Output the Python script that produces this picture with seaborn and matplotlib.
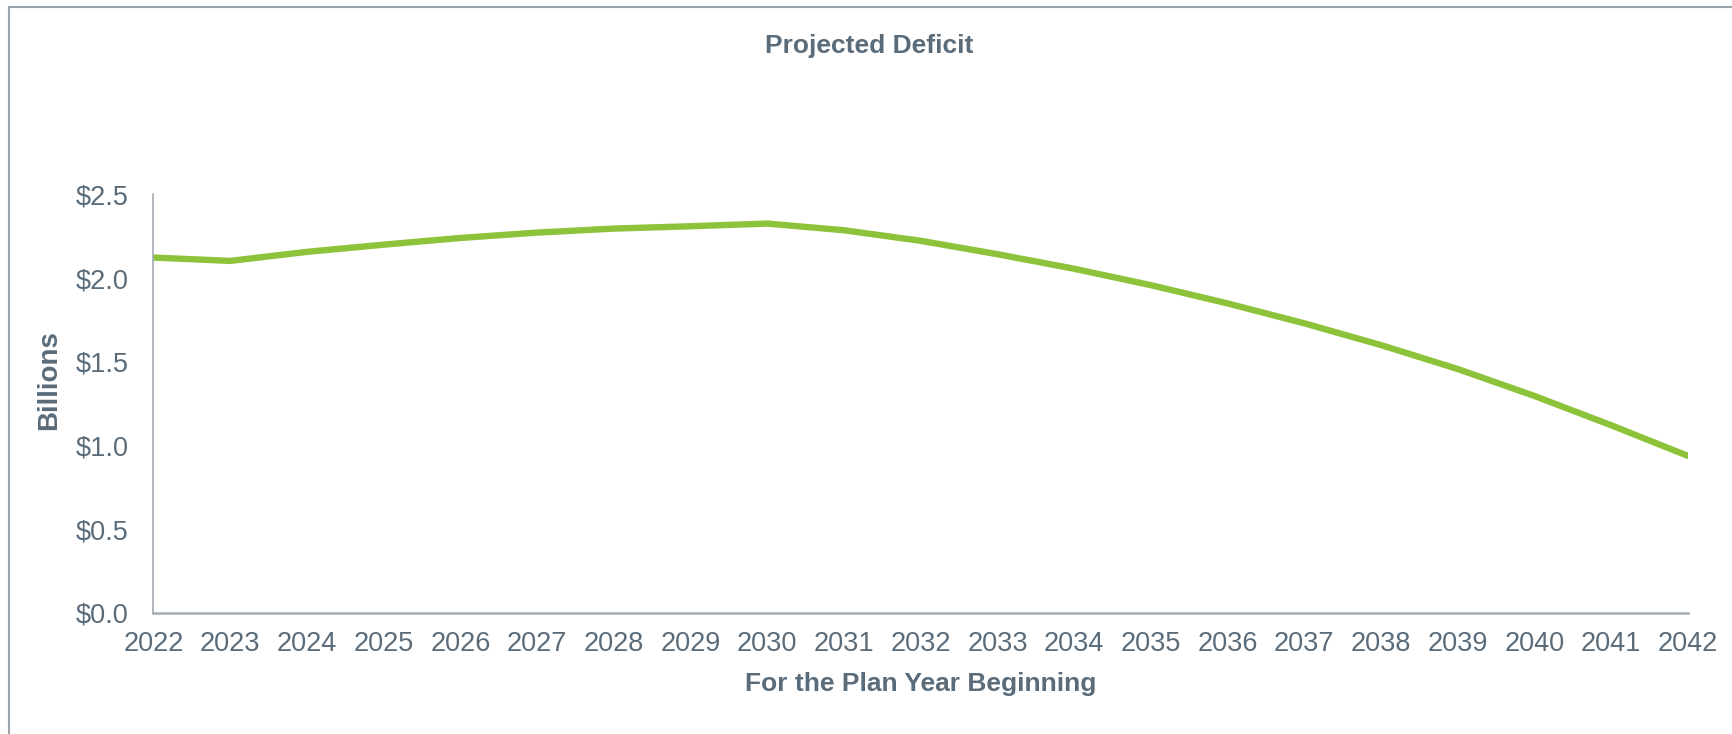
import pandas as pd
import matplotlib
matplotlib.use("Agg")
import matplotlib.pyplot as plt
import matplotlib.ticker as mtick
from matplotlib.patches import Rectangle
import seaborn as sns

sns.set_theme(style="white")
plt.rcParams["font.family"] = ["Liberation Sans", "DejaVu Sans"]

GREEN = "#8DC33A"
SLATE = "#5A6B7A"
AXIS_GRAY = "#A3AAB2"

# plan years and projected deficit ($ billions)
years = list(range(2022, 2043))
deficit = [2.123, 2.103, 2.157, 2.200, 2.240, 2.272, 2.296, 2.310, 2.326, 2.286,
           2.223, 2.143, 2.056, 1.958, 1.849, 1.730, 1.600, 1.457, 1.296, 1.121, 0.938]
y_ticks = [0.0, 0.5, 1.0, 1.5, 2.0, 2.5]

df = pd.DataFrame({"year": years, "deficit": deficit})

fig = plt.figure(figsize=(17.32, 7.34), dpi=100)
ax = fig.add_axes([0.0886, 0.1649, 0.886, 0.5702])

sns.lineplot(data=df, x="year", y="deficit", ax=ax, color=GREEN, linewidth=4.6,
             solid_capstyle="round")

ax.set_xlim(years[0], years[-1])
ax.set_ylim(y_ticks[0], y_ticks[-1])
ax.set_xticks(years)
ax.set_xticklabels([str(y) for y in years])
ax.set_yticks(y_ticks)
ax.yaxis.set_major_formatter(mtick.FuncFormatter(lambda v, _: f"${v:.1f}"))

for side in ["top", "right"]:
    ax.spines[side].set_visible(False)
ax.spines["left"].set_color(AXIS_GRAY)
ax.spines["left"].set_linewidth(1.2)
ax.spines["bottom"].set_color(AXIS_GRAY)
ax.spines["bottom"].set_linewidth(1.8)
ax.tick_params(axis="both", which="major", direction="out", colors=AXIS_GRAY,
               labelcolor=SLATE, labelsize=19.5, width=1.2)
ax.tick_params(axis="x", length=6, pad=7)
ax.tick_params(axis="y", length=6, pad=12)

ax.set_xlabel("For the Plan Year Beginning", fontsize=19, fontweight="bold",
              color=SLATE, labelpad=11)
ax.set_ylabel("Billions", fontsize=20, fontweight="bold", color=SLATE)
ax.yaxis.set_label_coords(-0.0597, 0.556)

fig.text(0.502, 0.938, "Projected Deficit", ha="center", va="center",
         fontsize=19, fontweight="bold", color=SLATE)

# outer frame (only top and left edges visible in the crop)
fig.add_artist(Rectangle((9 / 1732, -0.5), 2.0, 1.5 - 7 / 734,
                         transform=fig.transFigure, fill=False,
                         edgecolor="#9AA2AA", linewidth=1.5))

fig.savefig("out.png", dpi=100)
plt.close(fig)
